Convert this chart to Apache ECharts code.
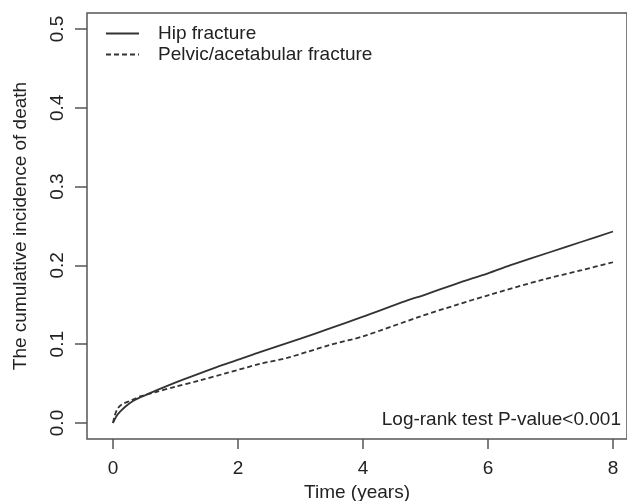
<!DOCTYPE html>
<html>
<head>
<meta charset="utf-8">
<title>Cumulative incidence of death</title>
<script src="https://cdn.jsdelivr.net/npm/echarts@6/dist/echarts.min.js"></script>
<style>
  html, body { margin: 0; padding: 0; background: #fff; }
  #chart { width: 627px; height: 501px; }
</style>
</head>
<body>
<div id="chart"></div>
<script>
// values (time in years, cumulative incidence)
const hipTime = [0, 0.05, 0.11, 0.2, 0.32, 0.45, 0.59, 0.8, 1.12, 1.66, 2.03, 2.35, 3, 3.47, 4, 4.69, 5, 5.5, 6, 6.35, 7, 7.5, 8]
const hipValues = [0, 0.008, 0.014, 0.021, 0.028, 0.033, 0.038, 0.045, 0.055, 0.071, 0.081, 0.09, 0.107, 0.12, 0.135, 0.155, 0.163, 0.177, 0.19, 0.2, 0.217, 0.23, 0.243]
const pelvicTime = [0, 0.03, 0.08, 0.15, 0.27, 0.45, 0.67, 1, 1.39, 1.8, 2.35, 2.8, 3.47, 4, 4.91, 5.5, 6, 6.88, 7.5, 8]
const pelvicValues = [0, 0.01, 0.019, 0.024, 0.028, 0.034, 0.039, 0.046, 0.054, 0.063, 0.075, 0.083, 0.099, 0.11, 0.135, 0.15, 0.162, 0.182, 0.194, 0.204]
const xTicks = [0, 2, 4, 6, 8]
const yTicks = [0, 0.1, 0.2, 0.3, 0.4, 0.5]
const yTickLabels = ['0.0', '0.1', '0.2', '0.3', '0.4', '0.5']

const font = 'Liberation Sans, Arial, sans-serif'
const ink = '#222'
const frame = '#555'
const fs = 19

function pairs(xs, ys) {
  return xs.map((x, i) => [x, ys[i]])
}

const chart = echarts.init(document.getElementById('chart'))

chart.setOption({
  animation: false,
  textStyle: { fontFamily: font, color: ink },
  grid: {
    left: 87,
    top: 13,
    right: 0,
    bottom: 62,
    outerBoundsMode: 'none',
    containLabel: false,
    show: true,
    borderColor: frame,
    borderWidth: 1.5
  },
  legend: {
    left: 105,
    top: 24,
    padding: 0,
    orient: 'vertical',
    itemWidth: 33,
    itemHeight: 14,
    itemGap: 2,
    itemStyle: { opacity: 0 },
    textStyle: { fontSize: fs, color: ink, fontFamily: font, padding: [0, 0, 0, 14] },
    data: ['Hip fracture', 'Pelvic/acetabular fracture']
  },
  xAxis: {
    type: 'value',
    min: -0.416,
    max: 8.224,
    name: 'Time (years)',
    nameLocation: 'middle',
    nameGap: 38,
    nameTextStyle: { fontSize: fs, color: ink },
    axisLine: { show: false, onZero: false },
    splitLine: { show: false },
    axisTick: {
      show: true,
      inside: false,
      length: 10,
      customValues: xTicks,
      lineStyle: { color: frame, width: 1.5 }
    },
    axisLabel: {
      fontSize: fs,
      color: ink,
      margin: 20,
      customValues: xTicks
    }
  },
  yAxis: {
    type: 'value',
    min: -0.0203,
    max: 0.5203,
    name: 'The cumulative incidence of death',
    nameLocation: 'middle',
    nameGap: 57,
    nameTextStyle: { fontSize: fs, color: ink },
    axisLine: { show: false, onZero: false },
    splitLine: { show: false },
    axisTick: {
      show: true,
      inside: false,
      length: 12,
      customValues: yTicks,
      lineStyle: { color: frame, width: 1.5 }
    },
    axisLabel: {
      fontSize: fs,
      color: ink,
      rotate: 90,
      margin: 20,
      customValues: yTicks,
      formatter: v => {
        const i = yTicks.findIndex(t => Math.abs(t - v) < 1e-9)
        return i >= 0 ? yTickLabels[i] : ''
      }
    }
  },
  graphic: [{
    type: 'text',
    right: 6,
    top: 410,
    style: {
      text: 'Log-rank test P-value<0.001',
      fontSize: fs,
      fontFamily: font,
      fill: ink
    }
  }],
  series: [{
    name: 'Hip fracture',
    type: 'line',
    symbol: 'none',
    smooth: 0.3,
    lineStyle: { color: '#333', width: 1.8, type: 'solid' },
    itemStyle: { color: '#333' },
    data: pairs(hipTime, hipValues)
  }, {
    name: 'Pelvic/acetabular fracture',
    type: 'line',
    symbol: 'none',
    smooth: 0.3,
    lineStyle: { color: '#333', width: 1.8, type: [5, 3] },
    itemStyle: { color: '#333' },
    data: pairs(pelvicTime, pelvicValues)
  }]
})
</script>
</body>
</html>
